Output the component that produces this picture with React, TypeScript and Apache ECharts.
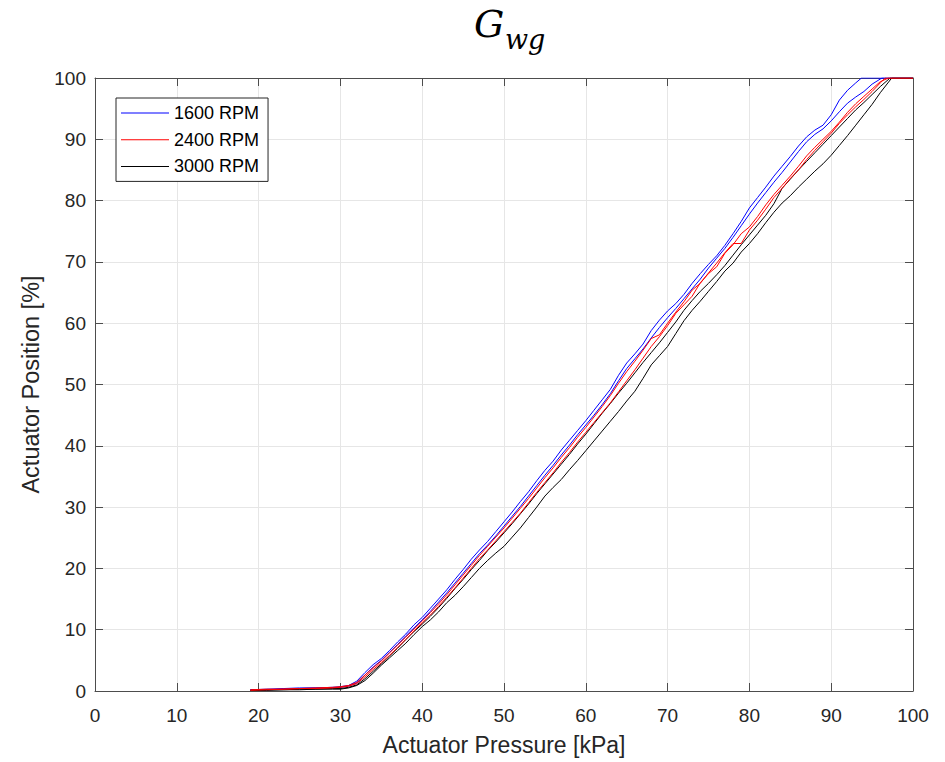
import React, { useEffect, useRef } from "react";
import * as echarts from "echarts";

// Pressure sample points (kPa)
const LOW_X = [19, 21, 23, 25, 27, 29];
const PRESSURE = [
  30, 31, 32, 33, 34, 35, 36, 37, 38, 39, 40, 41, 42, 43, 44, 45, 46, 47, 48, 49,
  50, 51, 52, 53, 54, 55, 56, 57, 58, 59, 60, 61, 62, 63, 64, 65, 66, 67, 68, 69,
  70, 71, 72, 73, 74, 75, 76, 77, 78, 79, 80, 81, 82, 83, 84, 85, 86, 87, 88, 89,
  90, 91, 92, 93, 94, 95, 96, 97,
];

// 1600 RPM, loop branch A / B (actuator position %)
const rpm1600A_low = [0.2, 0.3, 0.4, 0.5, 0.5, 0.6];
const rpm1600A = [
  0.7, 0.9, 1.6, 3.0, 4.3, 5.3, 6.6, 8.0, 9.3, 10.8, 12.0, 13.5, 15.0, 16.5, 18.2, 19.8, 21.5, 23.0, 24.4, 26.0,
  27.6, 29.2, 30.9, 32.5, 34.3, 36.0, 37.5, 39.3, 40.9, 42.5, 44.1, 45.8, 47.5, 49.2, 51.5, 53.5, 55.0, 56.6, 58.8, 60.5,
  62.0, 63.2, 64.7, 66.5, 68.1, 69.6, 71.0, 72.7, 74.6, 76.6, 78.8, 80.5, 82.2, 84.0, 85.6, 87.2, 88.9, 90.4, 91.5, 92.3,
  94.0, 96.4, 98.0, 99.2,
];
const rpm1600A_end = [93.7, 100];

const rpm1600B_low = [0.2, 0.2, 0.3, 0.4, 0.5, 0.5];
const rpm1600B = [
  0.6, 0.8, 1.3, 2.6, 3.9, 5.0, 6.3, 7.6, 9.0, 10.3, 11.6, 13.0, 14.5, 16.0, 17.6, 19.2, 20.8, 22.4, 23.8, 25.3,
  26.9, 28.5, 30.1, 31.8, 33.5, 35.2, 36.8, 38.5, 40.1, 41.8, 43.4, 45.0, 46.7, 48.5, 50.6, 52.6, 54.2, 55.8, 57.6, 59.3,
  60.9, 62.4, 64.0, 65.6, 67.2, 69.0, 70.6, 72.2, 74.0, 75.9, 77.8, 79.6, 81.3, 83.0, 84.6, 86.3, 88.0, 89.6, 90.8, 91.7,
  93.0, 94.5, 95.9, 96.9, 97.8, 99.0,
];
const rpm1600B_end = [96.2, 100];

// 2400 RPM
const rpm2400A_low = [0.2, 0.3, 0.3, 0.4, 0.5, 0.6];
const rpm2400A = [
  0.7, 0.9, 1.4, 2.6, 3.8, 4.9, 6.2, 7.5, 8.8, 10.1, 11.4, 12.8, 14.2, 15.7, 17.3, 18.9, 20.5, 22.1, 23.6, 25.1,
  26.6, 28.2, 29.8, 31.4, 33.1, 34.8, 36.4, 38.1, 39.7, 41.4, 43.0, 44.7, 46.4, 48.2, 50.2, 52.1, 53.8, 55.6, 57.5, 58.1,
  60.0, 61.8, 63.5, 65.4, 66.5, 68.2, 69.8, 71.5, 73.0, 73.0, 75.2, 76.8, 78.6, 80.5, 82.0, 83.6, 85.0, 86.7, 88.2, 89.6,
  91.0, 92.6, 94.0, 95.3, 96.5, 97.8, 99.2,
];
const rpm2400A_end = [96.6, 100];

const rpm2400B_low = [0.1, 0.2, 0.3, 0.4, 0.4, 0.5];
const rpm2400B = [
  0.6, 0.8, 1.2, 2.3, 3.5, 4.6, 5.8, 7.1, 8.4, 9.8, 11.1, 12.4, 13.8, 15.3, 16.8, 18.4, 20.0, 21.6, 23.0, 24.5,
  26.0, 27.5, 29.0, 30.7, 32.4, 34.0, 35.6, 37.3, 38.9, 40.6, 42.2, 43.8, 45.4, 47.0, 48.8, 50.6, 52.4, 54.3, 56.2, 57.8,
  59.6, 61.6, 63.0, 64.4, 66.6, 68.1, 69.2, 71.4, 72.8, 74.6, 75.7, 77.4, 79.3, 81.0, 82.5, 84.0, 85.6, 87.3, 88.7, 90.0,
  91.3, 92.8, 94.4, 95.8, 97.0, 98.2, 99.4,
];
const rpm2400B_end = [97.0, 100];

// 3000 RPM
const rpm3000A_low = [0.1, 0.2, 0.2, 0.3, 0.3, 0.4];
const rpm3000A = [
  0.4, 0.6, 1.0, 2.0, 3.2, 4.4, 5.7, 7.0, 8.4, 9.7, 10.9, 12.2, 13.6, 15.1, 16.7, 18.2, 19.8, 21.3, 22.9, 24.3,
  25.8, 27.3, 28.9, 30.5, 32.2, 33.8, 35.4, 37.0, 38.6, 40.3, 41.9, 43.6, 45.3, 46.9, 48.6, 50.2, 51.9, 53.6, 55.2, 56.8,
  58.5, 60.2, 62.1, 63.7, 65.2, 66.5, 67.9, 69.4, 71.1, 72.8, 74.4, 76.0, 77.6, 79.5, 82.0, 83.5, 85.0, 86.4, 87.8, 89.2,
  90.6, 92.0, 93.4, 94.8, 96.0, 97.3, 98.6,
];
const rpm3000A_end = [97.2, 100];

const rpm3000B_low = [0.1, 0.1, 0.2, 0.2, 0.3, 0.3];
const rpm3000B = [
  0.3, 0.5, 0.9, 1.7, 2.9, 4.2, 5.4, 6.6, 7.8, 9.2, 10.5, 11.6, 12.9, 14.4, 15.6, 17.0, 18.5, 20.0, 21.3, 22.5,
  23.6, 25.1, 26.6, 28.3, 30.0, 31.8, 33.2, 34.5, 36.1, 37.6, 39.2, 40.8, 42.4, 44.0, 45.6, 47.3, 48.9, 51.0, 53.2, 54.7,
  56.2, 58.3, 60.4, 62.1, 63.6, 65.2, 66.8, 68.5, 69.8, 71.6, 73.0, 74.6, 76.4, 78.1, 79.6, 80.8, 82.2, 83.5, 84.8, 86.0,
  87.4, 89.0, 90.6, 92.3, 94.0, 95.7, 97.6,
];
const rpm3000B_end = [97.4, 100];

const X_TICKS = { min: 0, max: 100, interval: 10 };
const Y_TICKS = { min: 0, max: 100, interval: 10 };

const LEGEND_NAMES = ["1600 RPM", "2400 RPM", "3000 RPM"];
const AXIS_X_NAME = "Actuator Pressure [kPa]";
const AXIS_Y_NAME = "Actuator Position [%]";

function buildLine(low: number[], mid: number[], end: number[]) {
  const pts: number[][] = [];
  low.forEach((v, i) => pts.push([LOW_X[i], v]));
  mid.forEach((v, i) => pts.push([PRESSURE[i], v]));
  pts.push([end[0], end[1]]);
  pts.push([100, 100]);
  return pts;
}

const FONT = "'Liberation Sans', Arial, Helvetica, sans-serif";
const TEXT = "#262626";
const AXIS = "#4d4d4d";

export default function App() {
  const ref = useRef<HTMLDivElement>(null);
  useEffect(() => {
    if (!ref.current) return;
    const chart = echarts.init(ref.current, undefined, { renderer: "svg" });

    const mk = (name: string, color: string, data: number[][]) => ({
      name,
      type: "line",
      data,
      symbol: "none",
      showSymbol: false,
      lineStyle: { color, width: 1 },
      itemStyle: { color },
      xAxisIndex: 0,
      yAxisIndex: 0,
    });

    const baseAxis = (extra: any) => ({
      type: "value",
      axisLine: { show: true, onZero: false, lineStyle: { color: AXIS, width: 1 } },
      axisTick: { show: true, inside: true, length: 8, lineStyle: { color: AXIS } },
      ...extra,
    });

    chart.setOption({
      animation: false,
      backgroundColor: "#ffffff",
      grid: { left: 95, right: 32, top: 78, bottom: 71, containLabel: false },
      graphic: [
        {
          type: "text",
          left: 474,
          top: 5,
          style: {
            text: "G",
            fontFamily: "'DejaVu Serif', serif",
            fontStyle: "italic",
            fontSize: 38,
            fill: "#000",
          },
        },
        {
          type: "text",
          left: 505,
          top: 26,
          style: {
            text: "wg",
            fontFamily: "'DejaVu Serif', serif",
            fontStyle: "italic",
            fontSize: 27,
            fill: "#000",
          },
        },
      ],
      legend: {
        data: LEGEND_NAMES,
        orient: "vertical",
        left: 116,
        top: 98,
        padding: [6, 9, 6, 5],
        icon: "rect",
        itemWidth: 48,
        itemHeight: 1,
        itemGap: 8.7,
        backgroundColor: "#ffffff",
        borderColor: "#262626",
        borderWidth: 1,
        borderRadius: 0,
        textStyle: { fontSize: 18, color: "#000", fontFamily: FONT },
      },
      xAxis: [
        baseAxis({
          ...X_TICKS,
          position: "bottom",
          name: AXIS_X_NAME,
          nameLocation: "middle",
          nameGap: 42,
          nameTextStyle: { fontSize: 23, color: TEXT, fontFamily: FONT },
          axisLabel: { color: TEXT, fontSize: 19, fontFamily: FONT, margin: 15 },
          splitLine: { show: true, lineStyle: { color: "#e6e6e6", width: 1 } },
        }),
        baseAxis({
          ...X_TICKS,
          position: "top",
          axisLabel: { show: false },
          splitLine: { show: false },
        }),
      ],
      yAxis: [
        baseAxis({
          ...Y_TICKS,
          position: "left",
          name: AXIS_Y_NAME,
          nameLocation: "middle",
          nameGap: 51,
          nameTextStyle: { fontSize: 23.5, color: TEXT, fontFamily: FONT },
          axisLabel: { color: TEXT, fontSize: 19, fontFamily: FONT, margin: 9 },
          splitLine: { show: true, lineStyle: { color: "#e6e6e6", width: 1 } },
        }),
        baseAxis({
          ...Y_TICKS,
          position: "right",
          axisLabel: { show: false },
          splitLine: { show: false },
        }),
      ],
      series: [
        mk(LEGEND_NAMES[0], "#0000ff", buildLine(rpm1600A_low, rpm1600A, rpm1600A_end)),
        mk(LEGEND_NAMES[0], "#0000ff", buildLine(rpm1600B_low, rpm1600B, rpm1600B_end)),
        mk(LEGEND_NAMES[2], "#000000", buildLine(rpm3000A_low, rpm3000A, rpm3000A_end)),
        mk(LEGEND_NAMES[2], "#000000", buildLine(rpm3000B_low, rpm3000B, rpm3000B_end)),
        mk(LEGEND_NAMES[1], "#ff0000", buildLine(rpm2400A_low, rpm2400A, rpm2400A_end)),
        mk(LEGEND_NAMES[1], "#ff0000", buildLine(rpm2400B_low, rpm2400B, rpm2400B_end)),
      ],
    });
    return () => chart.dispose();
  }, []);

  return <div ref={ref} style={{ width: 945, height: 762, position: "absolute", left: 0, top: 0 }} />;
}
